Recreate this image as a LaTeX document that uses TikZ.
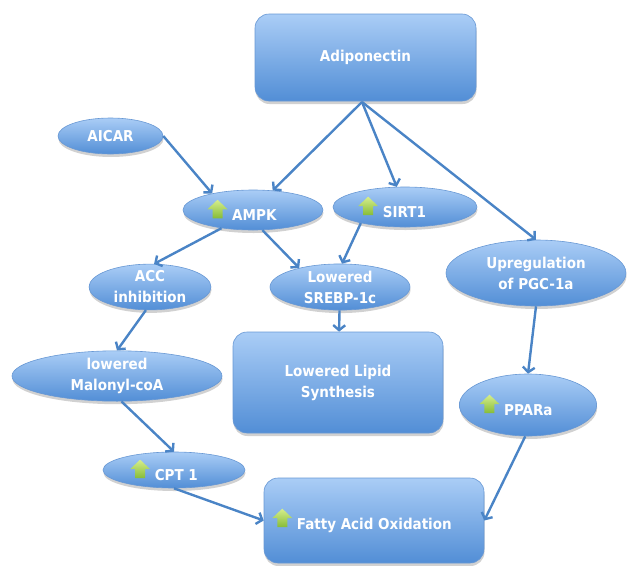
\documentclass[tikz,border=0pt]{standalone}
\usepackage{fontspec}
\newfontfamily\diagfont{DejaVu Sans Condensed}
\usetikzlibrary{shapes.geometric,arrows.meta,shadows}
\definecolor{boxtop}{RGB}{170,205,246}
\definecolor{boxbot}{RGB}{82,142,214}
\definecolor{boxline}{RGB}{104,152,212}
\definecolor{arrowc}{RGB}{74,132,198}
\definecolor{icontop}{RGB}{214,238,140}
\definecolor{iconbot}{RGB}{134,188,56}
\newcommand\upicon{\tikz[baseline=-2pt,x=1pt,y=1pt,sharp corners]{\shade[top color=icontop,bottom color=iconbot,draw=none,sharp corners] (5,0)--(15,0)--(15,9)--(20,9)--(10,18.5)--(0,9)--(5,9)--cycle;}}
\tikzset{
  base/.style={top color=boxtop,bottom color=boxbot,draw=boxline,line width=0.6pt,
    text=white,font=\diagfont\bfseries\fontsize{15}{21}\selectfont,align=center,inner sep=0pt,
    drop shadow={shadow xshift=0.5pt,shadow yshift=-3pt,opacity=0.18,fill=black}},
  rbox/.style={base,rectangle,rounded corners=14pt},
  ell/.style={base,ellipse},
  conn/.style={draw=arrowc,line width=2.4pt,-{Straight Barb[length=5pt,width=12pt]}}
}
\begin{document}
\begin{tikzpicture}[x=1pt,y=-1pt]
\useasboundingbox (0,0) rectangle (628,565);
\node[rbox,minimum width=221pt,minimum height=87pt] (adipo) at (365.5,57.5) {Adiponectin};
\node[ell,minimum width=105pt,minimum height=36pt] (aicar) at (110.5,136) {AICAR};
\node[ell,minimum width=140pt,minimum height=40pt] (ampk) at (253,210) {\upicon\ AMPK\hspace*{22pt}};
\node[ell,minimum width=144pt,minimum height=40pt] (sirt) at (405,207) {\upicon\ SIRT1\hspace*{26pt}};
\node[ell,minimum width=122pt,minimum height=44pt] (acc) at (150,287) {ACC\\inhibition};
\node[ell,minimum width=140pt,minimum height=44pt] (srebp) at (340,287) {Lowered\\SREBP-1c};
\node[ell,minimum width=180pt,minimum height=66pt] (upreg) at (536,273) {Upregulation\\of PGC-1a};
\node[rbox,minimum width=210pt,minimum height=101pt] (lipid) at (338,382.5) {Lowered Lipid\\Synthesis};
\node[ell,minimum width=210pt,minimum height=50pt] (malonyl) at (117,376) {lowered\\Malonyl-coA};
\node[ell,minimum width=137pt,minimum height=62pt] (ppar) at (528,405) {\upicon\ PPARa\hspace*{24pt}};
\node[ell,minimum width=142pt,minimum height=36pt] (cpt) at (174,470) {\upicon\ CPT 1\hspace*{20pt}};
\node[rbox,minimum width=220pt,minimum height=85pt] (fao) at (374,520.5) {\upicon\ Fatty Acid Oxidation\hspace*{24pt}};
\coordinate (fan) at (362,102);
\draw[conn] (fan) -- (ampk);
\draw[conn] (fan) -- (sirt);
\draw[conn] (fan) -- (upreg.north);
\draw[conn] (aicar.east) -- (ampk.158);
\draw[conn] (ampk.210) -- (acc.80);
\draw[conn] (ampk.-65) -- (srebp.155);
\draw[conn] (sirt.-160) -- (srebp.85);
\draw[conn] (srebp) -- (lipid);
\draw[conn] (acc.-100) -- (malonyl.north);
\draw[conn] (malonyl.-80) -- (cpt.north);
\draw[conn] (cpt.south) -- (fao.west);
\draw[conn] (upreg.south) -- (ppar.north);
\draw[conn] (ppar.-95) -- (fao.east);
\end{tikzpicture}
\end{document}
